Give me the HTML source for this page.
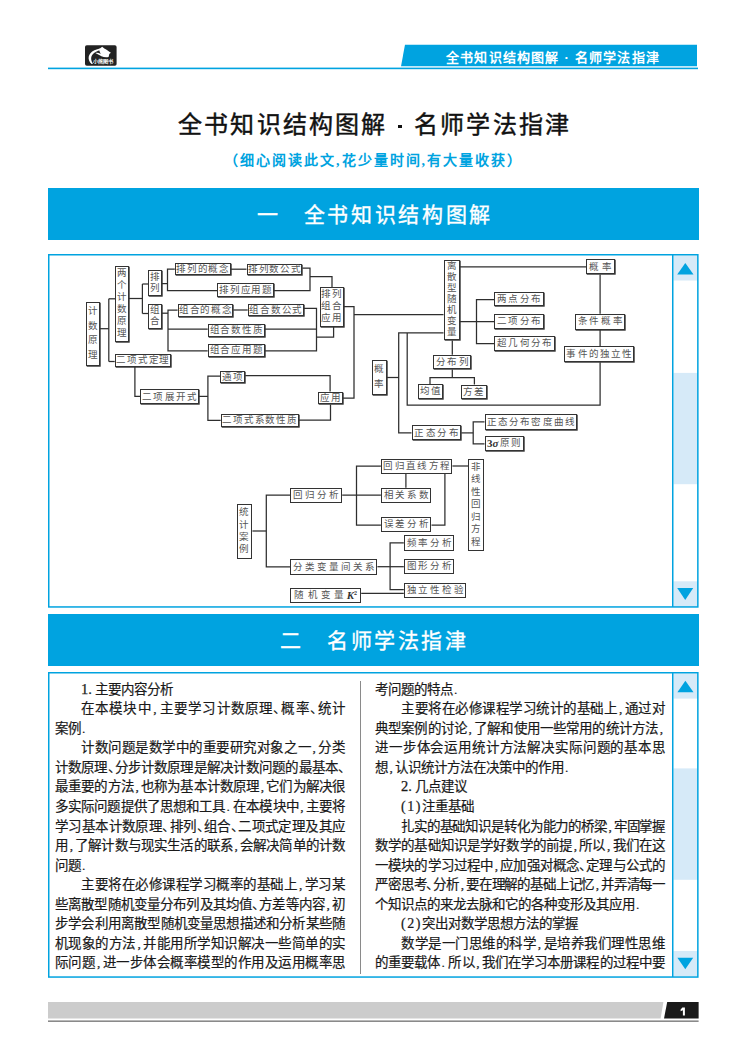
<!DOCTYPE html>
<html lang="zh-CN">
<head>
<meta charset="utf-8">
<style>
html,body{margin:0;padding:0;background:#fff;}
body{width:750px;height:1058px;position:relative;overflow:hidden;font-family:"Liberation Sans",sans-serif;}
.abs{position:absolute;}
.t{position:absolute;white-space:nowrap;line-height:1;}
.blue{background:#00a3e0;}
.banner{position:absolute;left:48px;width:650px;height:52px;background:#00a3e0;color:#fff;font-size:19px;font-weight:bold;text-align:center;letter-spacing:2px;}
.frame{position:absolute;left:48px;width:648px;border:1.3px solid #00a3e0;}
.sb{position:absolute;right:0;top:0;bottom:0;width:25px;border-left:1.3px solid #00a3e0;}
.sbbtn{position:absolute;left:0;width:25px;height:26px;background:#d6eaf8;}
.thumb{position:absolute;left:0;width:25px;background:#d6eaf8;}
.txt{position:absolute;font-family:"Liberation Serif",serif;font-size:13.5px;line-height:19.56px;color:#1a1a1a;-webkit-text-stroke:0.2px #1a1a1a;}
.p{letter-spacing:-6px;}
.cm{margin:0 2px 0 1.5px;}
.pd{margin-left:1px;}
.num{font-size:14.5px;-webkit-text-stroke:0.25px #1a1a1a;}
.par{letter-spacing:1.6px;font-size:14px;}
.ln{height:19.56px;white-space:nowrap;text-align:justify;text-align-last:justify;}
.ln.l{text-align-last:left;}
.ind{padding-left:26px;}
.bx{position:absolute;box-sizing:border-box;border:1px solid #333;background:#fff;display:flex;justify-content:space-evenly;align-items:center;font-family:"Liberation Serif",serif;font-size:9.5px;line-height:1;color:#555;white-space:nowrap;}
.bx i{font-style:normal;display:block;}
.bx em{font-style:italic;font-weight:bold;}
.bx sup{font-size:6px;vertical-align:top;}
.ba{box-shadow:0.7px 0.7px 0 #333;}
.bx:not(.v){padding-top:1px;}
.bx i.n{font-weight:bold;font-size:11px;color:#333;}
.v{flex-direction:column;}
.g b{font-weight:normal;display:block;letter-spacing:1px;}
.dg polyline{fill:none;stroke:#2e2e2e;stroke-width:1.25;}
</style>
</head>
<body>
<!-- header -->
<svg class="abs" style="left:0;top:0" width="750" height="80">
<rect x="85" y="45.3" width="31.6" height="20.4" rx="1.8" fill="#222"/>
<g transform="translate(85,45.3)" fill="#fff">
<path d="M6.6,18.8 C2.0,14.6 2.6,8.2 9.4,5.0 C11.4,4.1 13.3,3.6 14.8,3.2 L15.4,4.7 C12.2,5.6 9.7,6.9 8.0,8.7 C5.6,11.3 5.6,14.9 8.0,18.4 Z"/>
<path d="M14.2,3.8 L17.2,1.5 L19.3,3.1 C21.2,3.8 23.2,5.4 25.9,7.4 L24.3,8.7 L23.6,11.7 C21.1,12.3 18.5,11.9 16.4,10.9 C14.0,9.7 12.2,8.6 10.4,7.7 C12.4,7.3 14.2,7.9 15.7,8.6 C15.1,7.2 14.0,5.6 14.2,3.8 Z"/>
<text x="7.8" y="17.3" font-size="4.2" font-weight="bold" textLength="20.6" lengthAdjust="spacingAndGlyphs" font-family="Liberation Sans">小熊图书</text>
</g>
<polygon points="405,44.8 697,44.8 697,66.2 401,66.2" fill="#00a3e0"/>
<rect x="48" y="67.6" width="650" height="1.6" fill="#00a3e0"/>
</svg>
<div class="t" id="tab" style="left:446px;top:51px;font-size:13px;color:#fff;font-weight:bold;letter-spacing:1.2px;">全书知识结构图解 · 名师学法指津</div>

<!-- title -->
<div class="t" id="ti1" style="left:178px;top:113px;font-size:24px;color:#111;font-weight:500;-webkit-text-stroke:0.45px #111;letter-spacing:2.2px;">全书知识结构图解</div>
<div class="abs" style="left:398.4px;top:125px;width:3.2px;height:3.2px;background:#111;"></div>
<div class="t" id="ti2" style="left:414px;top:113px;font-size:24px;color:#111;font-weight:500;-webkit-text-stroke:0.45px #111;letter-spacing:2.2px;">名师学法指津</div>
<div class="t" id="sub" style="left:224px;top:154px;font-family:'Liberation Serif',serif;font-size:14px;letter-spacing:2px;font-weight:bold;color:#00a3e0;">（细心阅读此文,花少量时间,有大量收获）</div>

<div class="abs blue" style="left:48px;top:188px;width:650.6px;height:52px;"></div>
<div class="t" id="b1a" style="left:256.5px;top:204px;font-size:21px;color:#fff;font-weight:500;-webkit-text-stroke:0.35px #fff;">一</div>
<div class="t" id="b1b" style="left:303.5px;top:204px;font-size:21px;color:#fff;font-weight:500;-webkit-text-stroke:0.35px #fff;letter-spacing:2.7px;">全书知识结构图解</div>
<div class="abs blue" style="left:48px;top:614px;width:650.6px;height:52px;"></div>
<div class="t" id="b2a" style="left:280px;top:630px;font-size:21px;color:#fff;font-weight:500;-webkit-text-stroke:0.35px #fff;">二</div>
<div class="t" id="b2b" style="left:327px;top:630px;font-size:21px;color:#fff;font-weight:500;-webkit-text-stroke:0.35px #fff;letter-spacing:2.6px;">名师学法指津</div>
<svg class="abs" style="left:0;top:0" width="750" height="1058">
<rect x="673.5" y="255.5" width="24.4" height="25" fill="#d6eaf8"/>
<rect x="673.5" y="372.9" width="24.4" height="111.3" fill="#d6eaf8"/>
<rect x="673.5" y="581.3" width="24.4" height="25.6" fill="#d6eaf8"/>
<rect x="673.5" y="673.5" width="24.4" height="25.1" fill="#d6eaf8"/>
<rect x="673.5" y="768.4" width="24.4" height="111.4" fill="#d6eaf8"/>
<rect x="673.5" y="951" width="24.4" height="25.5" fill="#d6eaf8"/>
<g fill="none" stroke="#00a3e0" stroke-width="1.5">
<rect x="48.75" y="254.75" width="649.1" height="352.2"/>
<line x1="672.75" y1="254.75" x2="672.75" y2="607"/>
<rect x="48.75" y="672.75" width="649.1" height="304.3"/>
<line x1="672.75" y1="672.75" x2="672.75" y2="977"/>
</g>
<polygon points="685.3,263 693.5,274.5 677.2,274.5" fill="#00a3e0"/>
<polygon points="677.2,588 693.2,588 685.2,600" fill="#00a3e0"/>
<polygon points="685.4,680.7 693.5,692.2 677.4,692.2" fill="#00a3e0"/>
<polygon points="677.4,957.8 693.2,957.8 685.3,969.2" fill="#00a3e0"/>
</svg>

<!-- diagram -->
<svg class="abs dg" style="left:0;top:0" width="750" height="620">
<polyline points="100,328.7 108.8,328.7"/>
<polyline points="108.8,298.8 108.8,361.5"/>
<polyline points="108.8,298.8 115.2,298.8"/>
<polyline points="108.8,361.5 114.7,361.5"/>
<polyline points="128.8,298.5 142.4,298.5"/>
<polyline points="142.4,284 142.4,313.5"/>
<polyline points="142.4,284 148,284"/>
<polyline points="142.4,313.5 148,313.5"/>
<polyline points="161.6,283.6 167.5,283.6"/>
<polyline points="174.8,269.2 167.5,269.2 167.5,290.5 217.3,290.5"/>
<polyline points="230.8,269.2 246.5,269.2"/>
<polyline points="302.4,268 310,268 310,290.5 273.9,290.5"/>
<polyline points="310,276.7 332,276.7 332,286.9"/>
<polyline points="161.6,313.2 168,313.2"/>
<polyline points="177.6,310 168,310 168,350.8 207.7,350.8"/>
<polyline points="168,329.2 207.7,329.2"/>
<polyline points="233.3,310 247.7,310"/>
<polyline points="304,308.4 316.5,308.4 316.5,350.8 264.8,350.8"/>
<polyline points="264.8,329 316.5,329"/>
<polyline points="316.5,337.2 333.6,337.2 333.6,326.9"/>
<polyline points="343.6,306.5 354,306.5 354,398 342.9,398"/>
<polyline points="354,314.5 443.5,314.5"/>
<polyline points="134.9,366.8 134.9,396.4 140.3,396.4"/>
<polyline points="198.9,396.4 207.9,396.4"/>
<polyline points="220.3,376 207.9,376 207.9,420.4 220.7,420.4"/>
<polyline points="245.2,375.6 330.1,375.6 330.1,391.6"/>
<polyline points="298.8,420.2 330.5,420.2 330.5,404.4"/>
<polyline points="459.6,266.8 586.3,266.8"/>
<polyline points="459.6,321.5 494.4,321.5"/>
<polyline points="494.4,299.6 476.5,299.6 476.5,343.6 494.4,343.6"/>
<polyline points="600.1,274.5 600.1,313.7"/>
<polyline points="600.1,329.6 600.1,346.4"/>
<polyline points="600.1,362.3 600.1,405.2 407.2,405.2 407.2,332.9"/>
<polyline points="443.5,332.9 398.7,332.9 398.7,432.9 411.5,432.9"/>
<polyline points="386.9,377.5 398.7,377.5"/>
<polyline points="452.3,340.4 452.3,354.8"/>
<polyline points="452.3,369.5 452.3,377.5"/>
<polyline points="430,384.4 430,377.5 474.4,377.5 474.4,384.5"/>
<polyline points="461.3,432.9 473.2,432.9"/>
<polyline points="484.5,421.9 473.2,421.9 473.2,443.8 484.5,443.8"/>
<polyline points="252.4,531 266.3,531"/>
<polyline points="290.4,495.2 266.3,495.2 266.3,566.9 290.4,566.9"/>
<polyline points="342.2,495.2 380.9,495.2"/>
<polyline points="380.9,466 356.5,466 356.5,525 380.9,525"/>
<polyline points="405.9,473.9 405.9,487.8"/>
<polyline points="431.5,525.1 444.9,525.1 444.9,473.9"/>
<polyline points="452.4,466 468.4,466"/>
<polyline points="377.4,566.7 403.8,566.7"/>
<polyline points="403.8,542.8 390.1,542.8 390.1,589.7 403.8,589.7"/>
<polyline points="361.2,593.3 403.8,593.3"/>
</svg>
<div class="bx ba v" style="left:86px;top:301.5px;width:14.0px;height:64.5px"><i>计</i><i>数</i><i>原</i><i>理</i></div>
<div class="bx ba v" style="left:115.2px;top:266px;width:13.6px;height:75.7px"><i>两</i><i>个</i><i>计</i><i>数</i><i>原</i><i>理</i></div>
<div class="bx ba v" style="left:148px;top:269.7px;width:13.6px;height:26.7px"><i>排</i><i>列</i></div>
<div class="bx ba v" style="left:148px;top:303.6px;width:13.6px;height:25.6px"><i>组</i><i>合</i></div>
<div class="bx ba" style="left:114.7px;top:354px;width:56.5px;height:12.8px"><i>二</i><i>项</i><i>式</i><i>定</i><i>理</i></div>
<div class="bx ba" style="left:174.8px;top:263.3px;width:56.0px;height:11.9px"><i>排</i><i>列</i><i>的</i><i>概</i><i>念</i></div>
<div class="bx ba" style="left:246.5px;top:263.6px;width:55.9px;height:11.2px"><i>排</i><i>列</i><i>数</i><i>公</i><i>式</i></div>
<div class="bx ba" style="left:217.3px;top:282.8px;width:56.6px;height:14.1px"><i>排</i><i>列</i><i>应</i><i>用</i><i>题</i></div>
<div class="bx ba" style="left:177.6px;top:303.9px;width:55.7px;height:12.8px"><i>组</i><i>合</i><i>的</i><i>概</i><i>念</i></div>
<div class="bx ba" style="left:247.7px;top:304.4px;width:56.3px;height:12.0px"><i>组</i><i>合</i><i>数</i><i>公</i><i>式</i></div>
<div class="bx ba" style="left:207.7px;top:323.6px;width:57.1px;height:13.3px"><i>组</i><i>合</i><i>数</i><i>性</i><i>质</i></div>
<div class="bx ba" style="left:207.7px;top:343.9px;width:57.1px;height:12.8px"><i>组</i><i>合</i><i>应</i><i>用</i><i>题</i></div>
<div class="bx ba v g" style="left:319.5px;top:286.9px;width:24.1px;height:40.0px"><b>排列</b><b>组合</b><b>应用</b></div>
<div class="bx ba" style="left:140.3px;top:389.2px;width:58.6px;height:15.2px"><i>二</i><i>项</i><i>展</i><i>开</i><i>式</i></div>
<div class="bx ba" style="left:220.3px;top:370.9px;width:24.9px;height:12.2px"><i>通</i><i>项</i></div>
<div class="bx ba" style="left:318.4px;top:391.6px;width:24.5px;height:12.8px"><i>应</i><i>用</i></div>
<div class="bx ba" style="left:220.7px;top:414px;width:78.1px;height:12.8px"><i>二</i><i>项</i><i>式</i><i>系</i><i>数</i><i>性</i><i>质</i></div>
<div class="bx ba v" style="left:443.5px;top:259.6px;width:16.1px;height:80.8px"><i>离</i><i>散</i><i>型</i><i>随</i><i>机</i><i>变</i><i>量</i></div>
<div class="bx ba" style="left:586.3px;top:259.2px;width:28.4px;height:15.3px"><i>概</i><i>率</i></div>
<div class="bx ba" style="left:494.4px;top:291.6px;width:49.3px;height:14.9px"><i>两</i><i>点</i><i>分</i><i>布</i></div>
<div class="bx ba" style="left:494.4px;top:314px;width:49.3px;height:15.2px"><i>二</i><i>项</i><i>分</i><i>布</i></div>
<div class="bx ba" style="left:494.4px;top:335.9px;width:60.5px;height:15.4px"><i>超</i><i>几</i><i>何</i><i>分</i><i>布</i></div>
<div class="bx ba" style="left:575.1px;top:313.7px;width:50.4px;height:15.9px"><i>条</i><i>件</i><i>概</i><i>率</i></div>
<div class="bx ba" style="left:564.3px;top:346.4px;width:70.0px;height:15.9px"><i>事</i><i>件</i><i>的</i><i>独</i><i>立</i><i>性</i></div>
<div class="bx ba" style="left:433.3px;top:354.8px;width:37.9px;height:14.7px"><i>分</i><i>布</i><i>列</i></div>
<div class="bx ba" style="left:417.6px;top:384.4px;width:25.6px;height:14.5px"><i>均</i><i>值</i></div>
<div class="bx ba" style="left:461px;top:384.5px;width:25.7px;height:14.5px"><i>方</i><i>差</i></div>
<div class="bx ba v" style="left:371.5px;top:359.6px;width:15.4px;height:35.2px"><i>概</i><i>率</i></div>
<div class="bx ba" style="left:411.5px;top:425.2px;width:49.8px;height:15.2px"><i>正</i><i>态</i><i>分</i><i>布</i></div>
<div class="bx ba" style="left:484.5px;top:414.4px;width:92.8px;height:15.6px"><i>正</i><i>态</i><i>分</i><i>布</i><i>密</i><i>度</i><i>曲</i><i>线</i></div>
<div class="bx ba" style="left:484.5px;top:435.7px;width:39.1px;height:15.6px"><i class="n">3<em>σ</em></i><i>原</i><i>则</i></div>
<div class="bx bb v" style="left:236.6px;top:504.4px;width:15.8px;height:54.4px"><i>统</i><i>计</i><i>案</i><i>例</i></div>
<div class="bx bb" style="left:290.4px;top:487.8px;width:51.8px;height:15.5px"><i>回</i><i>归</i><i>分</i><i>析</i></div>
<div class="bx bb" style="left:290.4px;top:559.2px;width:87.0px;height:15.6px"><i>分</i><i>类</i><i>变</i><i>量</i><i>间</i><i>关</i><i>系</i></div>
<div class="bx bb" style="left:290.4px;top:587.6px;width:70.8px;height:15.6px"><i>随</i><i>机</i><i>变</i><i>量</i><i class="n"><em>K</em><sup>2</sup></i></div>
<div class="bx bb" style="left:380.9px;top:458.5px;width:71.5px;height:15.4px"><i>回</i><i>归</i><i>直</i><i>线</i><i>方</i><i>程</i></div>
<div class="bx bb" style="left:380.9px;top:487.8px;width:50.6px;height:15.5px"><i>相</i><i>关</i><i>系</i><i>数</i></div>
<div class="bx bb" style="left:380.9px;top:517.2px;width:50.6px;height:14.9px"><i>误</i><i>差</i><i>分</i><i>析</i></div>
<div class="bx bb v" style="left:468.4px;top:458.5px;width:15.3px;height:92.8px"><i>非</i><i>线</i><i>性</i><i>回</i><i>归</i><i>方</i><i>程</i></div>
<div class="bx bb" style="left:403.8px;top:535.3px;width:50.7px;height:15.4px"><i>频</i><i>率</i><i>分</i><i>析</i></div>
<div class="bx bb" style="left:403.8px;top:558.8px;width:50.7px;height:15.4px"><i>图</i><i>形</i><i>分</i><i>析</i></div>
<div class="bx bb" style="left:403.8px;top:582.7px;width:62.5px;height:14.9px"><i>独</i><i>立</i><i>性</i><i>检</i><i>验</i></div>
<!-- /diagram -->
<!-- text columns -->
<div class="txt" style="left:55px;top:679.7px;width:290px;">
<div class="ln ind l"><span class="num">1.</span> 主要内容分析</div>
<div class="ln ind">在本模块中<span class="cm">,</span>主要学习计数原理<span class="p">、</span>概率<span class="p">、</span>统计</div>
<div class="ln l">案例<span class="pd">.</span></div>
<div class="ln ind">计数问题是数学中的重要研究对象之一<span class="cm">,</span>分类</div>
<div class="ln ">计数原理<span class="p">、</span>分步计数原理是解决计数问题的最基本<span class="p">、</span></div>
<div class="ln ">最重要的方法<span class="cm">,</span>也称为基本计数原理<span class="cm">,</span>它们为解决很</div>
<div class="ln ">多实际问题提供了思想和工具<span class="pd">.</span> 在本模块中<span class="cm">,</span>主要将</div>
<div class="ln ">学习基本计数原理<span class="p">、</span>排列<span class="p">、</span>组合<span class="p">、</span>二项式定理及其应</div>
<div class="ln ">用<span class="cm">,</span>了解计数与现实生活的联系<span class="cm">,</span>会解决简单的计数</div>
<div class="ln l">问题<span class="pd">.</span></div>
<div class="ln ind">主要将在必修课程学习概率的基础上<span class="cm">,</span>学习某</div>
<div class="ln ">些离散型随机变量分布列及其均值<span class="p">、</span>方差等内容<span class="cm">,</span>初</div>
<div class="ln ">步学会利用离散型随机变量思想描述和分析某些随</div>
<div class="ln ">机现象的方法<span class="cm">,</span>并能用所学知识解决一些简单的实</div>
<div class="ln ">际问题<span class="cm">,</span>进一步体会概率模型的作用及运用概率思</div>
</div>
<div class="txt" style="left:375px;top:679.7px;width:290px;">
<div class="ln l">考问题的特点<span class="pd">.</span></div>
<div class="ln ind">主要将在必修课程学习统计的基础上<span class="cm">,</span>通过对</div>
<div class="ln ">典型案例的讨论<span class="cm">,</span>了解和使用一些常用的统计方法<span class="cm">,</span></div>
<div class="ln ">进一步体会运用统计方法解决实际问题的基本思</div>
<div class="ln l">想<span class="cm">,</span>认识统计方法在决策中的作用<span class="pd">.</span></div>
<div class="ln ind l"><span class="num">2.</span> 几点建议</div>
<div class="ln ind l"><span class="par">(1)</span>注重基础</div>
<div style="letter-spacing:-0.25px" class="ln ind">扎实的基础知识是转化为能力的桥梁<span class="cm">,</span>牢固掌握</div>
<div class="ln ">数学的基础知识是学好数学的前提<span class="cm">,</span>所以<span class="cm">,</span>我们在这</div>
<div class="ln ">一模块的学习过程中<span class="cm">,</span>应加强对概念<span class="p">、</span>定理与公式的</div>
<div style="letter-spacing:-0.25px" class="ln ">严密思考<span class="p">、</span>分析<span class="cm">,</span>要在理解的基础上记忆<span class="cm">,</span>并弄清每一</div>
<div class="ln l">个知识点的来龙去脉和它的各种变形及其应用<span class="pd">.</span></div>
<div class="ln ind l"><span class="par">(2)</span>突出对数学思想方法的掌握</div>
<div class="ln ind">数学是一门思维的科学<span class="cm">,</span>是培养我们理性思维</div>
<div class="ln ">的重要载体<span class="pd">.</span> 所以<span class="cm">,</span>我们在学习本册课程的过程中要</div>
</div>
<div class="abs" style="left:359.5px;top:681px;width:1px;height:293px;background:#8a8a8a;"></div>

<!-- footer -->
<svg class="abs" style="left:0;top:995px" width="750" height="40">
<polygon points="48,7 663.4,7 660.6,23.6 48,23.6" fill="#cccccc"/>
<polygon points="667.2,7 698.6,7 698.6,23.6 664,23.6" fill="#1a1a1a"/>
<rect x="48" y="25.4" width="650.6" height="1.6" fill="#8a8a8a"/>
<path d="M682.4,12.6 L684.9,12.6 L684.9,20.4 L682.9,20.4 L682.9,15.2 L680.6,16.2 L680.6,14.4 Z" fill="#fff"/>
</svg>
</body>
</html>
